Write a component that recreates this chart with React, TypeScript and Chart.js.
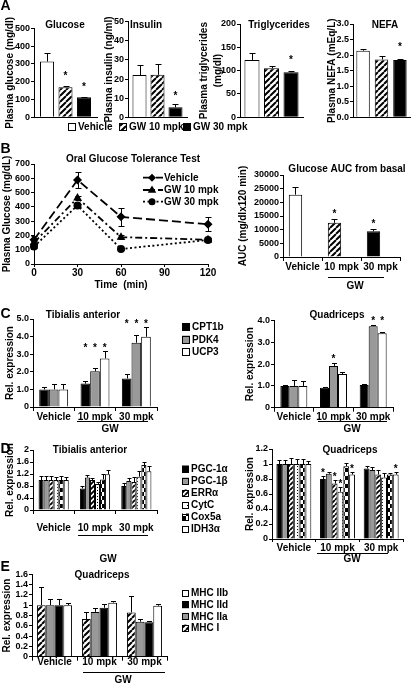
import React, { useEffect, useRef } from 'react';
import { Chart, registerables } from 'chart.js';

Chart.register(...registerables);

const W = 416;
const H = 683;
const FF = '"Liberation Sans", Arial, Helvetica, sans-serif';
const FONT = { family: FF, size: 10, weight: 'bold' as const };
const TICK_FONT = { family: FF, size: 9, weight: 'bold' as const };

// ===== Panel A: plasma parameters =====
const A_LEGEND = ['Vehicle', 'GW 10 mpk', 'GW 30 mpk'];
const GLUCOSE = [313, 169, 112];
const GLUCOSE_ERR = [47, 5, 4];
const GLUCOSE_SIG = [false, true, true];
const INSULIN = [22.1, 22.2, 5.2];
const INSULIN_ERR = [5.3, 5.8, 1.5];
const INSULIN_SIG = [false, false, true];
const TRIGLYCERIDES = [123, 105, 96.5];
const TRIGLYCERIDES_ERR = [14.5, 4, 3];
const TRIGLYCERIDES_SIG = [false, false, true];
const NEFA = [2.14, 1.86, 1.84];
const NEFA_ERR = [0.06, 0.1, 0.04];
const NEFA_SIG = [false, false, true];

// ===== Panel B: OGTT =====
const OGTT_TIME = [0, 30, 60, 120];
const OGTT_VEHICLE = [170, 588, 330, 278];
const OGTT_VEHICLE_ERR = [25, 58, 62, 50];
const OGTT_GW10 = [150, 462, 188, 170];
const OGTT_GW10_ERR = [12, 15, 15, 12];
const OGTT_GW30 = [122, 410, 105, 168];
const OGTT_GW30_ERR = [12, 12, 8, 12];

const AUC_GROUPS = ['Vehicle', '10 mpk', '30 mpk'];
const AUC = [22800, 12500, 9400];
const AUC_ERR = [2800, 1500, 1000];
const AUC_SIG = [false, true, true];

// ===== Panel C =====
const DOSE_GROUPS = ['Vehicle', '10 mpk', '30 mpk'];
const C_GENES = ['CPT1b', 'PDK4', 'UCP3'];
const TA_CPT1B = [1.0, 1.33, 1.62];
const TA_CPT1B_ERR = [0.15, 0.12, 0.28];
const TA_CPT1B_SIG = [false, true, true];
const TA_PDK4 = [1.0, 2.03, 3.65];
const TA_PDK4_ERR = [0.32, 0.2, 0.42];
const TA_PDK4_SIG = [false, true, true];
const TA_UCP3 = [1.0, 2.76, 3.99];
const TA_UCP3_ERR = [0.3, 0.4, 0.57];
const TA_UCP3_SIG = [false, true, true];

const Q_CPT1B = [1.0, 0.92, 1.04];
const Q_CPT1B_ERR = [0.03, 0.05, 0.03];
const Q_CPT1B_SIG = [false, false, false];
const Q_PDK4 = [1.0, 1.92, 3.75];
const Q_PDK4_ERR = [0.27, 0.12, 0.05];
const Q_PDK4_SIG = [false, true, true];
const Q_UCP3 = [1.0, 1.55, 3.42];
const Q_UCP3_ERR = [0.23, 0.11, 0.07];
const Q_UCP3_SIG = [false, false, true];

// ===== Panel D =====
const D_GENES = ['PGC-1α', 'PGC-1β', 'ERRα', 'CytC', 'Cox5a', 'IDH3α'];
const TA_PGC1A = [1.0, 0.72, 0.8];
const TA_PGC1A_ERR = [0.12, 0.07, 0.1];
const TA_PGC1B = [1.0, 1.08, 0.97];
const TA_PGC1B_ERR = [0.12, 0.1, 0.1];
const TA_ERRA = [1.0, 1.0, 0.93];
const TA_ERRA_ERR = [0.12, 0.07, 0.17];
const TA_CYTC = [1.0, 0.87, 1.11];
const TA_CYTC_ERR = [0.1, 0.07, 0.2];
const TA_COX5A = [1.0, 1.02, 1.5];
const TA_COX5A_ERR = [0.15, 0.18, 0.1];
const TA_IDH3A = [1.0, 1.19, 1.29];
const TA_IDH3A_ERR = [0.1, 0.14, 0.18];

const Q_PGC1A = [1.0, 0.8, 0.94];
const Q_PGC1A_ERR = [0.05, 0.04, 0.04];
const Q_PGC1A_SIG = [false, true, false];
const Q_PGC1B = [1.0, 0.87, 0.92];
const Q_PGC1B_ERR = [0.06, 0.02, 0.04];
const Q_PGC1B_SIG = [false, false, false];
const Q_ERRA = [1.0, 0.74, 0.86];
const Q_ERRA_ERR = [0.08, 0.05, 0.06];
const Q_ERRA_SIG = [false, true, false];
const Q_CYTC = [1.0, 0.63, 0.82];
const Q_CYTC_ERR = [0.07, 0.06, 0.06];
const Q_CYTC_SIG = [false, true, false];
const Q_COX5A = [1.0, 0.97, 0.86];
const Q_COX5A_ERR = [0.07, 0.05, 0.02];
const Q_COX5A_SIG = [false, false, false];
const Q_IDH3A = [1.0, 0.86, 0.86];
const Q_IDH3A_ERR = [0.04, 0.04, 0.04];
const Q_IDH3A_SIG = [false, true, true];

// ===== Panel E =====
const E_FIBERS = ['MHC I', 'MHC IIa', 'MHC IId', 'MHC IIb'];
const E_MHC1 = [1.0, 0.73, 0.86];
const E_MHC1_ERR = [0.35, 0.14, 0.32];
const E_MHC2A = [1.0, 0.87, 0.68];
const E_MHC2A_ERR = [0.13, 0.07, 0.05];
const E_MHC2D = [1.0, 0.95, 0.67];
const E_MHC2D_ERR = [0.13, 0.07, 0.03];
const E_MHC2B = [1.0, 1.05, 0.99];
const E_MHC2B_ERR = [0.04, 0.04, 0.03];

// ---------------------------------------------------------------------------

type FillKind = 'white' | 'black' | 'gray' | 'hatch' | 'hatchD' | 'dots' | 'check';

function makeFill(ctx: CanvasRenderingContext2D, kind: FillKind): string | CanvasPattern {
  if (kind === 'white') return '#ffffff';
  if (kind === 'black') return '#000000';
  if (kind === 'gray') return '#999999';
  const t = document.createElement('canvas');
  const g = t.getContext('2d') as CanvasRenderingContext2D;
  if (kind === 'hatch' || kind === 'hatchD') {
    const s = kind === 'hatch' ? 6 : 5;
    t.width = s;
    t.height = s;
    g.fillStyle = '#fff';
    g.fillRect(0, 0, s, s);
    g.strokeStyle = '#000';
    g.lineWidth = kind === 'hatch' ? 2 : 1.8;
    g.beginPath();
    for (let k = -1; k <= 1; k++) {
      g.moveTo(k * s, s);
      g.lineTo(k * s + s, 0);
    }
    g.stroke();
  } else if (kind === 'dots') {
    t.width = 5;
    t.height = 3;
    g.fillStyle = '#fff';
    g.fillRect(0, 0, 5, 3);
    g.fillStyle = '#000';
    g.fillRect(2, 1, 1, 1);
  } else {
    t.width = 6;
    t.height = 8;
    g.fillStyle = '#fff';
    g.fillRect(0, 0, 6, 8);
    g.fillStyle = '#000';
    g.fillRect(0, 0, 3, 4);
    g.fillRect(3, 4, 3, 4);
  }
  return ctx.createPattern(t, 'repeat') as CanvasPattern;
}

type Series = {
  label: string;
  data: (number | null)[];
  err?: number[];
  sig?: boolean[];
  fill: FillKind | FillKind[];
};

type LegendItem = { label: string; fill: FillKind; x: number; y: number };

type BarSpec = {
  area: [number, number, number, number];
  titleLeft: number;
  yTitle: string | string[];
  titleLineHeight?: number;
  yMax: number;
  yStep: number;
  fmt: (v: number) => string;
  labels: string[];
  series: Series[];
  catPct: number;
  barPct: number;
  showX: boolean;
  xTick: number;
  labelPad: number;
  capW: number;
  starOff: number;
  starMode: 'each' | 'group';
  title?: [string, number, number];
  legend?: LegendItem[];
  legendBox?: number;
};

function drawTitle(ctx: CanvasRenderingContext2D, t?: [string, number, number]) {
  if (!t) return;
  ctx.save();
  ctx.fillStyle = '#000';
  ctx.font = `bold 10px ${FF}`;
  ctx.textAlign = 'center';
  ctx.textBaseline = 'middle';
  ctx.fillText(t[0], t[1], t[2]);
  ctx.restore();
}

function barExtras(spec: BarSpec, fills: Record<string, string | CanvasPattern>) {
  return {
    id: 'barExtras',
    afterDatasetsDraw(chart: any) {
      const ctx = chart.ctx as CanvasRenderingContext2D;
      const ys = chart.scales.y;
      ctx.save();
      ctx.strokeStyle = '#000';
      ctx.lineWidth = 1;
      const stars: { x: number; top: number; i: number }[] = [];
      spec.series.forEach((s, di) => {
        const meta = chart.getDatasetMeta(di);
        s.data.forEach((v, i) => {
          if (v == null) return;
          const el = meta.data[i];
          const e = s.err ? s.err[i] : 0;
          const top = ys.getPixelForValue(v + e);
          const x = Math.round(el.x) + 0.5;
          if (e > 0) {
            const ty = Math.round(top) + 0.5;
            ctx.beginPath();
            ctx.moveTo(x, el.y);
            ctx.lineTo(x, ty);
            ctx.moveTo(x - spec.capW / 2, ty);
            ctx.lineTo(x + spec.capW / 2, ty);
            ctx.stroke();
          }
          if (s.sig && s.sig[i]) stars.push({ x: el.x, top, i });
        });
      });
      ctx.fillStyle = '#000';
      ctx.font = `bold 10px ${FF}`;
      ctx.textAlign = 'center';
      ctx.textBaseline = 'alphabetic';
      stars.forEach((st) => {
        let top = st.top;
        if (spec.starMode === 'group') {
          top = Math.min(...stars.filter((o) => o.i === st.i).map((o) => o.top));
        }
        ctx.fillText('*', st.x, top - spec.starOff + 6);
      });
      ctx.restore();
    },
    afterDraw(chart: any) {
      const ctx = chart.ctx as CanvasRenderingContext2D;
      drawTitle(ctx, spec.title);
      if (spec.legend) {
        const s = spec.legendBox || 7;
        ctx.save();
        ctx.font = `bold 10px ${FF}`;
        ctx.textBaseline = 'middle';
        ctx.textAlign = 'left';
        spec.legend.forEach((it) => {
          ctx.fillStyle = fills[it.fill] as any;
          ctx.fillRect(it.x, it.y - s / 2, s, s);
          ctx.strokeStyle = '#000';
          ctx.lineWidth = 1;
          ctx.strokeRect(it.x + 0.5, Math.round(it.y - s / 2) + 0.5, s - 1, s - 1);
          ctx.fillStyle = '#000';
          ctx.fillText(it.label, it.x + s + 2, it.y + 0.5);
        });
        ctx.restore();
      }
    },
  };
}

function barConfig(ctx: CanvasRenderingContext2D, spec: BarSpec): any {
  const [l, t, r, b] = spec.area;
  const xH = 30;
  const kinds: FillKind[] = ['white', 'black', 'gray', 'hatch', 'hatchD', 'dots', 'check'];
  const fills: Record<string, string | CanvasPattern> = {};
  kinds.forEach((k) => (fills[k] = makeFill(ctx, k)));
  return {
    type: 'bar',
    data: {
      labels: spec.labels,
      datasets: spec.series.map((s) => ({
        label: s.label,
        data: s.data,
        backgroundColor: Array.isArray(s.fill) ? s.fill.map((k) => fills[k]) : fills[s.fill],
        borderColor: '#000',
        borderWidth: 1,
        categoryPercentage: spec.catPct,
        barPercentage: spec.barPct,
      })),
    },
    options: {
      responsive: false,
      animation: false,
      devicePixelRatio: 1,
      events: [],
      layout: {
        autoPadding: false,
        padding: { left: spec.titleLeft, top: t, right: W - r, bottom: H - b - xH },
      },
      plugins: { legend: { display: false }, tooltip: { enabled: false }, title: { display: false } },
      scales: {
        x: {
          type: 'category',
          offset: true,
          grid: {
            display: true,
            drawOnChartArea: false,
            drawTicks: spec.xTick > 0,
            tickLength: spec.xTick,
            offset: true,
            color: '#000',
          },
          border: { display: true, color: '#000', width: 1 },
          ticks: {
            display: spec.showX,
            padding: spec.labelPad,
            font: FONT,
            color: '#000',
            maxRotation: 0,
            autoSkip: false,
          },
          afterFit: (s: any) => {
            s.height = xH;
          },
        },
        y: {
          type: 'linear',
          min: 0,
          max: spec.yMax,
          ticks: {
            stepSize: spec.yStep,
            callback: (v: any) => spec.fmt(Number(v)),
            font: TICK_FONT,
            color: '#000',
            padding: 1,
            autoSkip: false,
          },
          grid: { display: true, drawOnChartArea: false, drawTicks: true, tickLength: 3, color: '#000' },
          border: { display: true, color: '#000', width: 1 },
          title: {
            display: true,
            text: spec.yTitle,
            font: { ...FONT, lineHeight: spec.titleLineHeight || 1.2 },
            color: '#000',
            padding: 0,
          },
          afterFit: (s: any) => {
            s.width = l - spec.titleLeft;
          },
        },
      },
    },
    plugins: [barExtras(spec, fills)],
  };
}

const fmtInt = (v: number) => String(Math.round(v));
const fmt1 = (v: number) => (v === 0 ? '0' : v.toFixed(1));
const fmtFixed1 = (v: number) => v.toFixed(1);
const fmtTrim = (v: number) => String(Math.round(v * 100) / 100);

const A_FILLS: FillKind[] = ['white', 'hatch', 'black'];

function aSeries(vals: number[], errs: number[], sigs: boolean[]): Series[] {
  return A_LEGEND.map((lab, k) => ({
    label: lab,
    data: [vals[k]],
    err: [errs[k]],
    sig: [sigs[k]],
    fill: A_FILLS[k],
  }));
}

const SPEC_GLUCOSE: BarSpec = {
  area: [34, 28.3, 97, 117.3],
  titleLeft: 4,
  yTitle: 'Plasma glucose (mg/dl)',
  yMax: 500,
  yStep: 100,
  fmt: fmtInt,
  labels: [''],
  series: aSeries(GLUCOSE, GLUCOSE_ERR, GLUCOSE_SIG),
  catPct: 0.88,
  barPct: 0.76,
  showX: false,
  xTick: 0,
  labelPad: 0,
  capW: 6,
  starOff: 13,
  starMode: 'each',
  title: ['Glucose', 65, 25.5],
  legend: [
    { label: A_LEGEND[0], fill: 'white', x: 68, y: 127 },
    { label: A_LEGEND[1], fill: 'hatch', x: 119, y: 127 },
    { label: A_LEGEND[2], fill: 'black', x: 183, y: 127 },
  ],
  legendBox: 8,
};

const SPEC_INSULIN: BarSpec = {
  area: [128, 21.7, 187, 117.3],
  titleLeft: 103,
  yTitle: 'Plasma insulin (ng/ml)',
  yMax: 50,
  yStep: 10,
  fmt: fmtInt,
  labels: [''],
  series: aSeries(INSULIN, INSULIN_ERR, INSULIN_SIG),
  catPct: 0.915,
  barPct: 0.78,
  showX: false,
  xTick: 0,
  labelPad: 0,
  capW: 6,
  starOff: 11,
  starMode: 'each',
  title: ['Insulin', 146, 25.5],
};

const SPEC_TG: BarSpec = {
  area: [240, 24, 303, 117.3],
  titleLeft: 197,
  yTitle: ['Plasma triglycerides', '(mg/dl)'],
  titleLineHeight: 1.4,
  yMax: 200,
  yStep: 50,
  fmt: fmtInt,
  labels: [''],
  series: aSeries(TRIGLYCERIDES, TRIGLYCERIDES_ERR, TRIGLYCERIDES_SIG),
  catPct: 0.93,
  barPct: 0.77,
  showX: false,
  xTick: 0,
  labelPad: 0,
  capW: 6,
  starOff: 14,
  starMode: 'each',
  title: ['Triglycerides', 279, 25.5],
};

const SPEC_NEFA: BarSpec = {
  area: [353, 24, 410, 117.3],
  titleLeft: 326,
  yTitle: 'Plasma NEFA (mEq/L)',
  yMax: 3,
  yStep: 0.5,
  fmt: fmtFixed1,
  labels: [''],
  series: aSeries(NEFA, NEFA_ERR, NEFA_SIG),
  catPct: 0.97,
  barPct: 0.73,
  showX: false,
  xTick: 0,
  labelPad: 0,
  capW: 6,
  starOff: 15,
  starMode: 'each',
  title: ['NEFA', 385, 25.5],
};

const SPEC_AUC: BarSpec = {
  area: [283, 175, 400, 257],
  titleLeft: 237,
  yTitle: 'AUC (mg/dlx120 min)',
  yMax: 30000,
  yStep: 5000,
  fmt: fmtInt,
  labels: AUC_GROUPS,
  series: [
    { label: 'AUC', data: AUC, err: AUC_ERR, sig: AUC_SIG, fill: ['white', 'hatch', 'black'] },
    { label: '', data: [null, null, null], fill: 'white' },
  ],
  catPct: 0.72,
  barPct: 0.95,
  showX: true,
  xTick: 4,
  labelPad: 0,
  capW: 6,
  starOff: 8,
  starMode: 'each',
  title: ['Glucose AUC from basal', 347, 169.3],
};

const C_FILLS: FillKind[] = ['black', 'gray', 'white'];

const SPEC_C_TA: BarSpec = {
  area: [33, 319, 157, 407],
  titleLeft: 4,
  yTitle: 'Rel. expression',
  yMax: 5,
  yStep: 1,
  fmt: fmt1,
  labels: DOSE_GROUPS,
  series: [
    { label: C_GENES[0], data: TA_CPT1B, err: TA_CPT1B_ERR, sig: TA_CPT1B_SIG, fill: 'black' },
    { label: C_GENES[1], data: TA_PDK4, err: TA_PDK4_ERR, sig: TA_PDK4_SIG, fill: 'gray' },
    { label: C_GENES[2], data: TA_UCP3, err: TA_UCP3_ERR, sig: TA_UCP3_SIG, fill: 'white' },
  ],
  catPct: 0.7,
  barPct: 1,
  showX: true,
  xTick: 4,
  labelPad: 0.5,
  capW: 5,
  starOff: 6,
  starMode: 'group',
  title: ['Tibialis anterior', 83, 315],
  legend: [
    { label: C_GENES[0], fill: C_FILLS[0], x: 182, y: 327 },
    { label: C_GENES[1], fill: C_FILLS[1], x: 182, y: 339.5 },
    { label: C_GENES[2], fill: C_FILLS[2], x: 182, y: 352 },
  ],
  legendBox: 8,
};

const SPEC_C_Q: BarSpec = {
  area: [274, 320.7, 393, 407.7],
  titleLeft: 244,
  yTitle: 'Rel. expression',
  yMax: 4,
  yStep: 1,
  fmt: fmt1,
  labels: DOSE_GROUPS,
  series: [
    { label: C_GENES[0], data: Q_CPT1B, err: Q_CPT1B_ERR, sig: Q_CPT1B_SIG, fill: 'black' },
    { label: C_GENES[1], data: Q_PDK4, err: Q_PDK4_ERR, sig: Q_PDK4_SIG, fill: 'gray' },
    { label: C_GENES[2], data: Q_UCP3, err: Q_UCP3_ERR, sig: Q_UCP3_SIG, fill: 'white' },
  ],
  catPct: 0.68,
  barPct: 1,
  showX: true,
  xTick: 4,
  labelPad: 0,
  capW: 5,
  starOff: 7,
  starMode: 'group',
  title: ['Quadriceps', 337, 315],
};

const D_FILLS: FillKind[] = ['black', 'gray', 'hatchD', 'dots', 'check', 'white'];

const SPEC_D_TA: BarSpec = {
  area: [33, 450, 157, 510],
  titleLeft: 4,
  yTitle: 'Rel. expression',
  yMax: 2,
  yStep: 0.4,
  fmt: fmtTrim,
  labels: DOSE_GROUPS,
  series: [
    { label: D_GENES[0], data: TA_PGC1A, err: TA_PGC1A_ERR, fill: D_FILLS[0] },
    { label: D_GENES[1], data: TA_PGC1B, err: TA_PGC1B_ERR, fill: D_FILLS[1] },
    { label: D_GENES[2], data: TA_ERRA, err: TA_ERRA_ERR, fill: D_FILLS[2] },
    { label: D_GENES[3], data: TA_CYTC, err: TA_CYTC_ERR, fill: D_FILLS[3] },
    { label: D_GENES[4], data: TA_COX5A, err: TA_COX5A_ERR, fill: D_FILLS[4] },
    { label: D_GENES[5], data: TA_IDH3A, err: TA_IDH3A_ERR, fill: D_FILLS[5] },
  ],
  catPct: 0.73,
  barPct: 1,
  showX: true,
  xTick: 4,
  labelPad: 8,
  capW: 4,
  starOff: 5,
  starMode: 'each',
  title: ['Tibialis anterior', 90, 450],
  legend: D_GENES.map((g, k) => ({ label: g, fill: D_FILLS[k], x: 182, y: 469 + k * 12 })),
  legendBox: 7,
};

const SPEC_D_Q: BarSpec = {
  area: [272, 449, 403, 539],
  titleLeft: 244,
  yTitle: 'Rel. expression',
  yMax: 1.2,
  yStep: 0.2,
  fmt: fmtTrim,
  labels: DOSE_GROUPS,
  series: [
    { label: D_GENES[0], data: Q_PGC1A, err: Q_PGC1A_ERR, sig: Q_PGC1A_SIG, fill: D_FILLS[0] },
    { label: D_GENES[1], data: Q_PGC1B, err: Q_PGC1B_ERR, sig: Q_PGC1B_SIG, fill: D_FILLS[1] },
    { label: D_GENES[2], data: Q_ERRA, err: Q_ERRA_ERR, sig: Q_ERRA_SIG, fill: D_FILLS[2] },
    { label: D_GENES[3], data: Q_CYTC, err: Q_CYTC_ERR, sig: Q_CYTC_SIG, fill: D_FILLS[3] },
    { label: D_GENES[4], data: Q_COX5A, err: Q_COX5A_ERR, sig: Q_COX5A_SIG, fill: D_FILLS[4] },
    { label: D_GENES[5], data: Q_IDH3A, err: Q_IDH3A_ERR, sig: Q_IDH3A_SIG, fill: D_FILLS[5] },
  ],
  catPct: 0.8,
  barPct: 1,
  showX: true,
  xTick: 3,
  labelPad: 0,
  capW: 4,
  starOff: 6,
  starMode: 'each',
  title: ['Quadriceps', 350, 450],
};

const E_FILLS: FillKind[] = ['hatch', 'gray', 'black', 'white'];

const SPEC_E: BarSpec = {
  area: [32, 574.3, 167, 656.7],
  titleLeft: 1.5,
  yTitle: 'Rel. expression',
  yMax: 1.6,
  yStep: 0.2,
  fmt: fmtTrim,
  labels: DOSE_GROUPS,
  series: [
    { label: E_FIBERS[0], data: E_MHC1, err: E_MHC1_ERR, fill: E_FILLS[0] },
    { label: E_FIBERS[1], data: E_MHC2A, err: E_MHC2A_ERR, fill: E_FILLS[1] },
    { label: E_FIBERS[2], data: E_MHC2D, err: E_MHC2D_ERR, fill: E_FILLS[2] },
    { label: E_FIBERS[3], data: E_MHC2B, err: E_MHC2B_ERR, fill: E_FILLS[3] },
  ],
  catPct: 0.78,
  barPct: 1,
  showX: true,
  xTick: 4,
  labelPad: -4,
  capW: 5,
  starOff: 6,
  starMode: 'each',
  title: ['Quadriceps', 102, 575.7],
  legend: [3, 2, 1, 0].map((k, j) => ({ label: E_FIBERS[k], fill: E_FILLS[k], x: 182, y: 593 + j * 11.7 })),
  legendBox: 7,
};

// ---------- OGTT line chart ----------
const OGTT_SERIES = [
  { label: 'Vehicle', data: OGTT_VEHICLE, err: OGTT_VEHICLE_ERR, dash: [9, 4], style: 'rectRot', r: 4.5 },
  { label: 'GW 10 mpk', data: OGTT_GW10, err: OGTT_GW10_ERR, dash: [7, 3, 2, 3], style: 'triangle', r: 5 },
  { label: 'GW 30 mpk', data: OGTT_GW30, err: OGTT_GW30_ERR, dash: [2, 2.5], style: 'circle', r: 4 },
];

function drawMarker(ctx: CanvasRenderingContext2D, style: string, x: number, y: number, r: number) {
  ctx.beginPath();
  if (style === 'rectRot') {
    ctx.moveTo(x, y - r);
    ctx.lineTo(x + r, y);
    ctx.lineTo(x, y + r);
    ctx.lineTo(x - r, y);
    ctx.closePath();
  } else if (style === 'triangle') {
    ctx.moveTo(x, y - r);
    ctx.lineTo(x + r * 0.95, y + r * 0.6);
    ctx.lineTo(x - r * 0.95, y + r * 0.6);
    ctx.closePath();
  } else {
    ctx.arc(x, y, r, 0, Math.PI * 2);
  }
  ctx.fill();
}

function ogttConfig(): any {
  const l = 34, t = 164, r = 208, b = 264;
  const xH = 27;
  const titleLeft = 1.5;
  return {
    type: 'line',
    data: {
      datasets: OGTT_SERIES.map((s) => ({
        label: s.label,
        data: OGTT_TIME.map((tm, i) => ({ x: tm, y: s.data[i] })),
        borderColor: '#000',
        borderWidth: 1.8,
        borderDash: s.dash,
        pointStyle: s.style,
        pointRadius: s.r,
        pointBackgroundColor: '#000',
        pointBorderColor: '#000',
        pointBorderWidth: 0,
        fill: false,
        tension: 0,
        clip: false,
      })),
    },
    options: {
      responsive: false,
      animation: false,
      devicePixelRatio: 1,
      events: [],
      layout: { autoPadding: false, padding: { left: titleLeft, top: t, right: W - r, bottom: H - b - xH } },
      plugins: { legend: { display: false }, tooltip: { enabled: false }, title: { display: false } },
      scales: {
        x: {
          type: 'linear',
          min: 0,
          max: 120,
          ticks: { stepSize: 30, font: FONT, color: '#000', padding: 0, maxRotation: 0 },
          grid: { display: true, drawOnChartArea: false, drawTicks: true, tickLength: 3, color: '#000' },
          border: { display: true, color: '#000' },
          title: { display: true, text: 'Time  (min)', font: FONT, color: '#000', padding: 0 },
          afterFit: (s: any) => {
            s.height = xH;
          },
        },
        y: {
          type: 'linear',
          min: 0,
          max: 700,
          ticks: { stepSize: 100, font: TICK_FONT, color: '#000', padding: 1, autoSkip: false, callback: (v: any) => String(v) },
          grid: { display: true, drawOnChartArea: false, drawTicks: true, tickLength: 3, color: '#000' },
          border: { display: true, color: '#000' },
          title: { display: true, text: 'Plasma Glucose (mg/dL)', font: FONT, color: '#000', padding: 0 },
          afterFit: (s: any) => {
            s.width = l - titleLeft;
          },
        },
      },
    },
    plugins: [
      {
        id: 'ogttExtras',
        afterDatasetsDraw(chart: any) {
          const ctx = chart.ctx as CanvasRenderingContext2D;
          const ys = chart.scales.y;
          ctx.save();
          ctx.strokeStyle = '#000';
          ctx.lineWidth = 1;
          OGTT_SERIES.forEach((s, di) => {
            const meta = chart.getDatasetMeta(di);
            s.data.forEach((v, i) => {
              const el = meta.data[i];
              const e = s.err[i];
              const y1 = Math.round(ys.getPixelForValue(v + e)) + 0.5;
              const y2 = Math.round(ys.getPixelForValue(v - e)) + 0.5;
              const x = Math.round(el.x) + 0.5;
              ctx.beginPath();
              ctx.moveTo(x, y1);
              ctx.lineTo(x, y2);
              ctx.moveTo(x - 3, y1);
              ctx.lineTo(x + 3, y1);
              ctx.moveTo(x - 3, y2);
              ctx.lineTo(x + 3, y2);
              ctx.stroke();
            });
          });
          ctx.restore();
        },
        afterDraw(chart: any) {
          const ctx = chart.ctx as CanvasRenderingContext2D;
          drawTitle(ctx, ['Oral Glucose Tolerance Test', 133, 159.5]);
          ctx.save();
          const rows = [177.7, 190, 201.7];
          OGTT_SERIES.forEach((s, k) => {
            const y = rows[k];
            ctx.strokeStyle = '#000';
            ctx.lineWidth = 1.8;
            ctx.setLineDash(s.dash);
            ctx.beginPath();
            ctx.moveTo(143, y);
            ctx.lineTo(163, y);
            ctx.stroke();
            ctx.setLineDash([]);
            ctx.fillStyle = '#000';
            drawMarker(ctx, s.style, 152, y, s.r - 0.5);
            ctx.font = `bold 10px ${FF}`;
            ctx.textBaseline = 'middle';
            ctx.textAlign = 'left';
            ctx.fillText(s.label, 164, y + 0.5);
          });
          ctx.restore();
        },
      },
    ],
  };
}

// ---------------------------------------------------------------------------

type Maker = (ctx: CanvasRenderingContext2D) => any;

const MAKERS: Maker[] = [
  (ctx) => barConfig(ctx, SPEC_GLUCOSE),
  (ctx) => barConfig(ctx, SPEC_INSULIN),
  (ctx) => barConfig(ctx, SPEC_TG),
  (ctx) => barConfig(ctx, SPEC_NEFA),
  () => ogttConfig(),
  (ctx) => barConfig(ctx, SPEC_AUC),
  (ctx) => barConfig(ctx, SPEC_C_TA),
  (ctx) => barConfig(ctx, SPEC_C_Q),
  (ctx) => barConfig(ctx, SPEC_D_TA),
  (ctx) => barConfig(ctx, SPEC_D_Q),
  (ctx) => barConfig(ctx, SPEC_E),
];

function PageChart({ make }: { make: Maker }) {
  const ref = useRef<HTMLCanvasElement>(null);
  useEffect(() => {
    const c = ref.current as HTMLCanvasElement;
    const ctx = c.getContext('2d') as CanvasRenderingContext2D;
    const chart = new Chart(ctx, make(ctx));
    return () => chart.destroy();
  }, [make]);
  return (
    <canvas
      ref={ref}
      width={W}
      height={H}
      style={{ position: 'absolute', left: 0, top: 0, width: W, height: H }}
    />
  );
}

function Label({ x, y, text, size = 10, center = true }: { x: number; y: number; text: string; size?: number; center?: boolean }) {
  return (
    <div
      style={{
        position: 'absolute',
        left: x,
        top: y - size / 2,
        transform: center ? 'translateX(-50%)' : undefined,
        font: `bold ${size}px ${FF}`,
        lineHeight: `${size}px`,
        whiteSpace: 'nowrap',
        color: '#000',
      }}
    >
      {text}
    </div>
  );
}

function HLine({ x1, x2, y }: { x1: number; x2: number; y: number }) {
  return <div style={{ position: 'absolute', left: x1, top: y, width: x2 - x1, height: 1, background: '#000' }} />;
}

export default function App() {
  useEffect(() => {
    document.body.style.margin = '0';
  }, []);
  return (
    <div
      style={{
        position: 'absolute',
        left: 0,
        top: 0,
        width: W,
        height: H,
        background: '#fff',
        overflow: 'hidden',
      }}
    >
      {MAKERS.map((mk, i) => (
        <PageChart key={i} make={mk} />
      ))}
      <Label x={0.5} y={5} text="A" size={14} center={false} />
      <Label x={0.5} y={147.5} text="B" size={14} center={false} />
      <Label x={0.5} y={313} text="C" size={14} center={false} />
      <Label x={0.5} y={448} text="D" size={14} center={false} />
      <Label x={0.5} y={565.5} text="E" size={14} center={false} />

      <HLine x1={328} x2={384} y={277} />
      <Label x={355} y={285.5} text="GW" />

      <HLine x1={77} x2={148} y={421} />
      <Label x={110} y={428.5} text="GW" />
      <HLine x1={318} x2={387} y={421} />
      <Label x={352} y={428.5} text="GW" />

      <HLine x1={78} x2={148} y={535} />
      <Label x={108} y={559} text="GW" />
      <HLine x1={317} x2={388} y={553} />
      <Label x={352} y={559} text="GW" />

      <HLine x1={83} x2={165} y={672} />
      <Label x={123} y={680} text="GW" />
    </div>
  );
}
